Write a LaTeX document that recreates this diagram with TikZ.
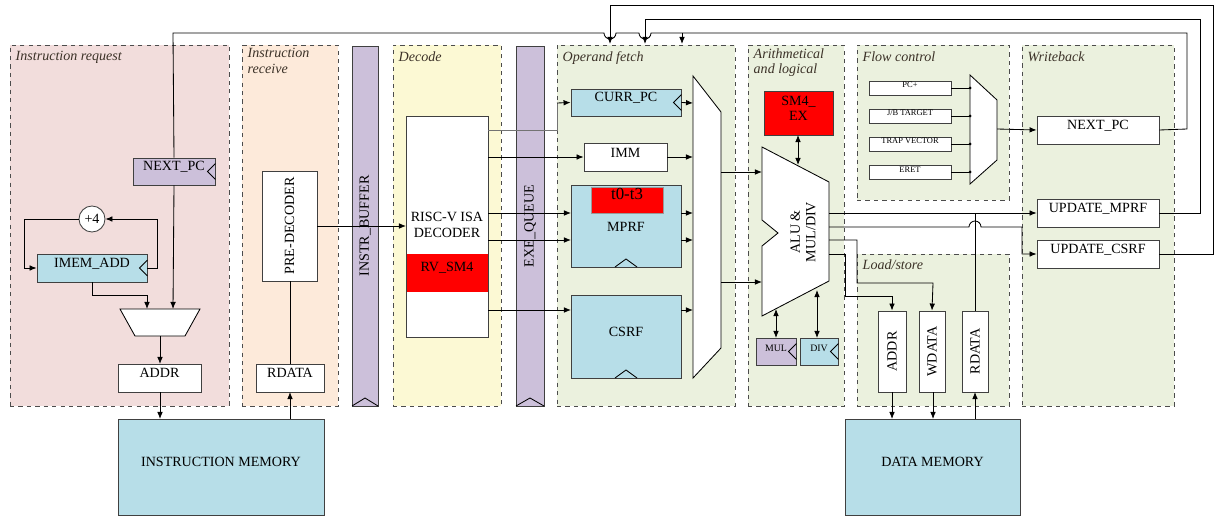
\documentclass[tikz,border=0pt]{standalone}
\usepackage{fontspec}
\setmainfont{Liberation Serif}
\usetikzlibrary{fit,arrows.meta,calc}
\definecolor{pinkbg}{RGB}{242,221,220}
\definecolor{peachbg}{RGB}{253,234,218}
\definecolor{yellowbg}{RGB}{252,249,212}
\definecolor{greenbg}{RGB}{235,241,222}
\definecolor{purp}{RGB}{204,192,218}
\definecolor{lblue}{RGB}{183,222,232}
\definecolor{titlec}{RGB}{60,50,40}
\begin{document}
\begin{tikzpicture}[x=0.025cm,y=-0.025cm,
  panel/.style={draw=black!70,dashed,inner sep=0},
  ptitle/.style={anchor=north west,align=left,font=\fontsize{10}{11}\selectfont\itshape,text=titlec,inner sep=1pt},
  box/.style={draw=black!75,line width=0.6pt,inner sep=0,font=\fontsize{10}{11}\selectfont},
  sbox/.style={box,font=\fontsize{6}{7}\selectfont},
  lbl/.style={font=\fontsize{10}{11}\selectfont,inner sep=0},
  w/.style={line width=0.6pt},
  a/.style={w,-{Latex[length=5pt,width=4pt]}},
  aa/.style={w,{Latex[length=5pt,width=4pt]}-{Latex[length=5pt,width=4pt]}},
  g/.style={w,black!55}]
\useasboundingbox (0,0) rectangle (1221,525);
% panels
\node[panel,fill=pinkbg,fit={(10,45)(229,406)}] (preq) {};
\node[ptitle] at (14,50) {Instruction request};
\node[panel,fill=peachbg,fit={(242,45)(338,406)}] (prec) {};
\node[ptitle] at (246,47) {Instruction\\receive};
\node[panel,fill=yellowbg,fit={(393,45)(501,406)}] (pdec) {};
\node[ptitle] at (397,50) {Decode};
\node[panel,fill=greenbg,fit={(557,45)(735,406)}] (pop) {};
\node[ptitle] at (561,50) {Operand fetch};
\node[panel,fill=greenbg,fit={(748,45)(844,406)}] (palu) {};
\node[ptitle] at (752,47) {Arithmetical\\and logical};
\node[panel,fill=greenbg,fit={(857,45)(1009,200)}] (pflow) {};
\node[ptitle] at (861,50) {Flow control};
\node[panel,fill=greenbg,fit={(857,254)(1009,406)}] (pls) {};
\node[ptitle] at (861,258) {Load/store};
\node[panel,fill=greenbg,fit={(1022,45)(1174,406)}] (pwb) {};
\node[ptitle] at (1026,50) {Writeback};
% buffers
\node[box,fill=purp,fit={(352,46)(378,406)}] (ibuf) {};
\node[lbl,rotate=90] at (ibuf.center) {INSTR\_BUFFER};
\draw[w] (352,406) -- (365,398) -- (378,406);
\node[box,fill=purp,fit={(516,46)(544,406)}] (exq) {};
\node[lbl,rotate=90] at (exq.center) {EXE\_QUEUE};
\draw[w] (516,406) -- (530,398) -- (544,406);
% instruction request
\node[box,fill=purp,fit={(133,158)(215,185)}] (npc) {NEXT\_PC};
\node[box,fill=white,circle,minimum size=26*0.025cm] (p4) at (92,219) {+4};
\node[box,fill=lblue,fit={(37,254)(147,282)}] (imem) {IMEM\_ADD};
\draw[w,fill=white] (120,309) -- (200,309) -- (185,336) -- (135,336) -- cycle;
\coordinate (mxa) at (147,309); \coordinate (mxb) at (173,309); \coordinate (mxo) at (160,336);
\node[box,fill=white,fit={(118,364)(201,392)}] (addr) {ADDR};
% receive
\node[box,fill=white,fit={(262,171)(317,281)}] (pre) {};
\node[lbl,rotate=90] at (pre.center) {PRE-DECODER};
\node[box,fill=white,fit={(256,364)(324,392)}] (rdata) {RDATA};
% memories
\node[box,fill=lblue,fit={(118,419)(324,515)}] (imemory) {INSTRUCTION MEMORY};
\node[box,fill=lblue,fit={(845,419)(1020,515)}] (dmem) {DATA MEMORY};
% decoder
\node[box,fill=white,fit={(406,116)(488,337)}] (dec) {};
\node[box,fill=red,draw=red,fit={(407,254)(487,291)}] (rvsm) {RV\_SM4};
\node[lbl,align=center] at (447,225) {RISC-V ISA\\DECODER};
% operand fetch
\node[box,fill=lblue,fit={(571,89)(681,116)}] (cpc) {CURR\_PC};
\node[box,fill=white,fit={(584,143)(667,171)}] (imm) {IMM};
\node[box,fill=lblue,fit={(571,185)(681,267)}] (mprf) {};
\node[lbl] at (626,227) {MPRF};
\node[box,fill=red,draw=black!40,fit={(591,187)(663,213)},font=\fontsize{12}{13}\selectfont] (tt) {t0-t3};
\node[box,fill=lblue,fit={(571,295)(681,378)}] (csrf) {CSRF};
\draw[w] (615,267) -- (626,259) -- (637,267);
\draw[w] (615,378) -- (626,370) -- (637,378);
\draw[w,fill=white] (693,76) -- (721,112) -- (721,348) -- (693,378) -- cycle;
% ALU
\node[box,fill=red,fit={(764,91)(833,135)},align=center] (sm4) {SM4\_\\EX};
\draw[w,fill=white] (762,147) -- (829,182) -- (829,281) -- (762,316) -- (762,246) -- (778,233) -- (762,220) -- cycle;
\node[lbl,rotate=90,align=center] at (803,232) {ALU \&\\MUL/DIV};
\node[box,fill=purp,fit={(756,338)(796,365)},font=\fontsize{7}{8}\selectfont] (mul) {MUL};
\node[box,fill=lblue,fit={(800,338)(838,365)},font=\fontsize{7}{8}\selectfont] (div) {DIV};
% flow control
\node[sbox,fill=white,fit={(869,81)(951,95)}] (pcp) {PC+};
\node[sbox,fill=white,fit={(869,109)(951,123)}] (jb) {J/B TARGET};
\node[sbox,fill=white,fit={(869,137)(951,151)}] (trap) {TRAP VECTOR};
\node[sbox,fill=white,fit={(869,165)(951,179)}] (eret) {ERET};
\draw[w,fill=white] (970,75) -- (997,100) -- (997,160) -- (970,184) -- cycle;
% writeback
\node[box,fill=white,fit={(1037,116)(1159,144)}] (wnpc) {NEXT\_PC};
\node[box,fill=white,fit={(1037,199)(1159,227)}] (umprf) {UPDATE\_MPRF};
\node[box,fill=white,fit={(1037,240)(1159,268)}] (ucsrf) {UPDATE\_CSRF};
% load/store
\node[box,fill=white,fit={(878,311)(906,392)}] (laddr) {};
\node[lbl,rotate=90] at (laddr.center) {ADDR};
\node[box,fill=white,fit={(919,311)(945,392)}] (lwd) {};
\node[lbl,rotate=90] at (lwd.center) {WDATA};
\node[box,fill=white,fit={(962,311)(988,392)}] (lrd) {};
\node[lbl,rotate=90] at (lrd.center) {RDATA};
% clock marks
\foreach \n in {npc,imem,cpc,mul,div}{
  \draw[w] ($(\n.east)+(0,-8)$) -- ($(\n.east)+(-8,0)$) -- ($(\n.east)+(0,8)$);}
% ---- connectors ----
\draw[a] (npc.south) -- (mxb);
\draw[a] (92,282) -- (92,295) -- (147,295) -- (mxa);
\draw[a] (imem.east) -- (157,268) -- (157,219) -- (p4.east);
\draw[a] (p4.west) -- (24,219) -- (24,268) -- (imem.west);
\draw[a] (mxo) -- (160,364);
\draw[a] (160,392) -- (160,419);
\draw[a] (290,419) -- (290,392);
\draw[w] (290,364) -- (290,281);
\draw[a] (317,226) -- (406,226);
\draw[g] (488,130) -- (557,130) -- (557,103);
\draw[a] (557,103) -- (cpc.west);
\draw[a] (488,157) -- (imm.west);
\draw[a] (488,213) -- (571,213);
\draw[a] (488,240) -- (571,240);
\draw[a] (488,310) -- (571,310);
\draw[a] (cpc.east) -- (693,103);
\draw[a] (imm.east) -- (693,157);
\draw[a] (681,213) -- (693,213);
\draw[a] (681,240) -- (693,240);
\draw[a] (681,310) -- (693,310);
\draw[a] (721,172) -- (762,172);
\draw[a] (721,282) -- (762,282);
\draw[aa] (798,135) -- (798,165);
\draw[aa] (776,309) -- (776,338);
\draw[aa] (817,290) -- (817,338);
\foreach \n/\y in {pcp/88,jb/116,trap/144,eret/172}{
  \draw[w] (\n.east) -- (970,\y); \fill (970,\y) circle (1.5);}
\draw[a] (997,129) -- (wnpc.west);
\draw[a] (829,213) -- (umprf.west);
\draw[a] (829,227) -- (969,227) arc (180:360:6) -- (1022,227) -- (1022,254) -- (ucsrf.west);
\draw[a] (829,240) -- (857,240) -- (857,283) -- (933,283) -- (lwd.north);
\draw[a] (829,254) -- (845,254) -- (845,296) -- (892,296) -- (laddr.north);
\draw[w] (lrd.north) -- (975,213);
\draw[a] (892,392) -- (892,419);
\draw[a] (933,392) -- (933,419);
\draw[a] (975,419) -- (975,392);
% feedback lines
\draw[a] (ucsrf.east) -- (1213,254) -- (1213,5) -- (610,5) -- (610,44);
\draw[a] (umprf.east) -- (1200,213) -- (1200,19) -- (645,19) -- (645,44);
\draw[w] (wnpc.east) -- (1187,129) -- (1187,33) -- (651,33) arc (0:180:6) -- (616,33) arc (0:180:6) -- (173,33) -- (npc.north);
\draw[a] (682,33) -- (682,44);
\end{tikzpicture}
\end{document}
